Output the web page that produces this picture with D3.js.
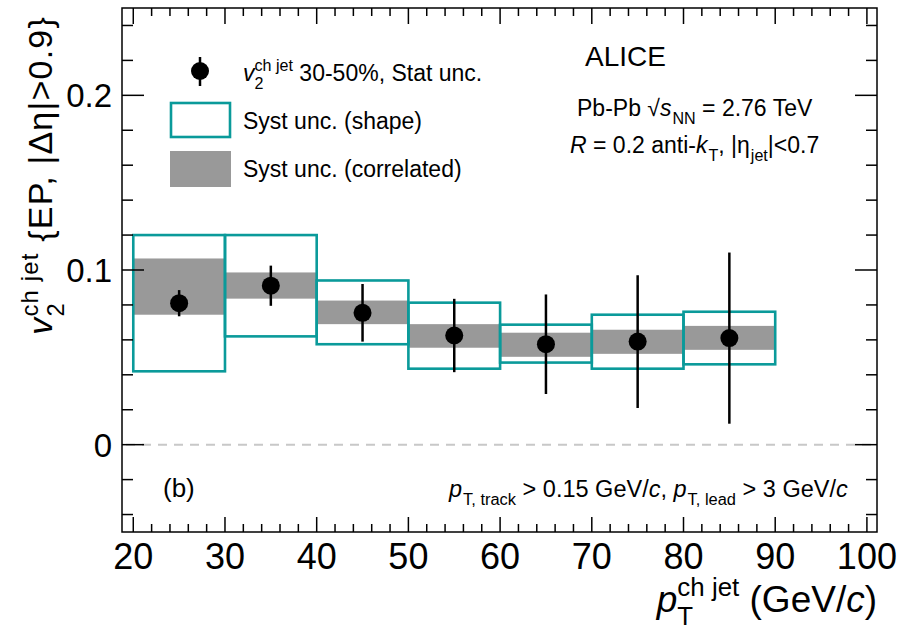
<!DOCTYPE html>
<html>
<head>
<meta charset="utf-8">
<script src="https://cdn.jsdelivr.net/npm/d3@7"></script>
<style>
  body { margin: 0; background: #fff; }
  svg { display: block; font-family: "Liberation Sans", Arial, Helvetica, sans-serif; }
</style>
</head>
<body>
<div id="chart"></div>
<script>
// pT bins (GeV/c) and v2 values
const binLo   = [20, 30, 40, 50, 60, 70, 80];
const binHi   = [30, 40, 50, 60, 70, 80, 90];
const v2      = [0.081, 0.091, 0.0755, 0.0625, 0.0575, 0.059, 0.061];
const statErr = [0.0075, 0.0115, 0.0165, 0.021, 0.0285, 0.038, 0.049];
const shapeLo = [0.042, 0.062, 0.0575, 0.0435, 0.047, 0.0435, 0.046];
const shapeHi = [0.120, 0.120, 0.094, 0.0813, 0.0687, 0.0744, 0.0761];
const corrLo  = [0.0744, 0.0836, 0.069, 0.0555, 0.0503, 0.052, 0.0543];
const corrHi  = [0.1066, 0.0986, 0.0825, 0.069, 0.0641, 0.0658, 0.068];

const xMajor = [20, 30, 40, 50, 60, 70, 80, 90, 100];
const yMajor = [0, 0.1, 0.2];
const yLabels = ['0', '0.1', '0.2'];

const width = 911, height = 632;
const frame = { left: 122, right: 877, top: 8, bottom: 532 };

const teal = '#0a9a9a', grey = '#999999';

const x = d3.scaleLinear().domain([18.77, 101.1]).range([frame.left, frame.right]);
const y = d3.scaleLinear().domain([-0.05, 0.25]).range([frame.bottom, frame.top]);

const svg = d3.select('#chart').append('svg')
    .attr('width', width)
    .attr('height', height);

// rich text: parts are {t, i, sub, sup, stack}
function rich(g, px, py, size, parts, anchor, ls) {
    const t = g.append('text')
        .attr('x', px).attr('y', py)
        .attr('font-size', size)
        .attr('letter-spacing', ls || null)
        .attr('text-anchor', anchor || 'start');
    const subDy = 0.36 * size, supDy = -0.42 * size, sc = 0.7;
    let shift = 0, pending = 0;
    parts.forEach(p => {
        const target = p.sup ? supDy : p.sub ? subDy : 0;
        const s = t.append('tspan')
            .attr('dy', target - shift)
            .attr('font-size', (p.sub || p.sup) ? size * sc : size)
            .attr('font-style', p.i ? 'italic' : null)
            .text(p.t);
        if (pending || p.sub) s.attr('dx', pending + (p.sub ? 1 : 0));
        pending = 0;
        shift = target;
        if (p.stack) {
            const w1 = s.node().getComputedTextLength();
            const sub = t.append('tspan')
                .attr('dx', -w1)
                .attr('dy', subDy - shift)
                .attr('font-size', size * sc)
                .text(p.stack);
            shift = subDy;
            const w2 = sub.node().getComputedTextLength();
            pending = Math.max(0, w1 - w2);
        }
    });
    return t;
}

// zero line
svg.append('line')
    .attr('x1', frame.left + 4).attr('x2', frame.right)
    .attr('y1', y(0)).attr('y2', y(0))
    .attr('stroke', '#c8c8c8')
    .attr('stroke-width', 2)
    .attr('stroke-dasharray', '9,7');

const idx = d3.range(v2.length);

// correlated systematics
svg.append('g').selectAll('rect')
    .data(idx).enter().append('rect')
    .attr('x', i => x(binLo[i]))
    .attr('width', i => x(binHi[i]) - x(binLo[i]))
    .attr('y', i => y(corrHi[i]))
    .attr('height', i => y(corrLo[i]) - y(corrHi[i]))
    .attr('fill', grey);

// shape systematics
svg.append('g').selectAll('rect')
    .data(idx).enter().append('rect')
    .attr('x', i => x(binLo[i]))
    .attr('width', i => x(binHi[i]) - x(binLo[i]))
    .attr('y', i => y(shapeHi[i]))
    .attr('height', i => y(shapeLo[i]) - y(shapeHi[i]))
    .attr('fill', 'none')
    .attr('stroke', teal)
    .attr('stroke-width', 2.6);

// stat error bars
svg.append('g').selectAll('line')
    .data(idx).enter().append('line')
    .attr('x1', i => x((binLo[i] + binHi[i]) / 2))
    .attr('x2', i => x((binLo[i] + binHi[i]) / 2))
    .attr('y1', i => y(v2[i] + statErr[i]))
    .attr('y2', i => y(v2[i] - statErr[i]))
    .attr('stroke', '#000')
    .attr('stroke-width', 2.5);

svg.append('g').selectAll('circle')
    .data(idx).enter().append('circle')
    .attr('cx', i => x((binLo[i] + binHi[i]) / 2))
    .attr('cy', i => y(v2[i]))
    .attr('r', 9)
    .attr('fill', '#000');

// frame and ticks
const axes = svg.append('g').attr('stroke', '#000').attr('stroke-width', 1.5);
axes.append('rect')
    .attr('x', frame.left).attr('y', frame.top)
    .attr('width', frame.right - frame.left)
    .attr('height', frame.bottom - frame.top)
    .attr('fill', 'none');

const xMinor = d3.range(20, 100.01, 2);
const yMinor = d3.range(-0.04, 0.2401, 0.02);

xMinor.forEach(v => {
    const major = xMajor.some(m => Math.abs(m - v) < 1e-6);
    const lb = major ? 15 : 8, lt = major ? 16 : 8;
    axes.append('line').attr('x1', x(v)).attr('x2', x(v))
        .attr('y1', frame.bottom).attr('y2', frame.bottom - lb);
    axes.append('line').attr('x1', x(v)).attr('x2', x(v))
        .attr('y1', frame.top).attr('y2', frame.top + lt);
});
yMinor.forEach(v => {
    const major = yMajor.some(m => Math.abs(m - v) < 1e-6);
    const l = major ? 22 : 11;
    axes.append('line').attr('y1', y(v)).attr('y2', y(v))
        .attr('x1', frame.left).attr('x2', frame.left + l);
    axes.append('line').attr('y1', y(v)).attr('y2', y(v))
        .attr('x1', frame.right).attr('x2', frame.right - l);
});

// tick labels
svg.append('g').selectAll('text')
    .data(xMajor).enter().append('text')
    .attr('x', d => x(d))
    .attr('y', 569)
    .attr('text-anchor', 'middle')
    .attr('font-size', 36)
    .text(d => d);

svg.append('g').selectAll('text')
    .data(yMajor).enter().append('text')
    .attr('x', 112)
    .attr('y', d => y(d) + 12)
    .attr('text-anchor', 'end')
    .attr('font-size', 33)
    .text((d, i) => yLabels[i]);

// axis titles
rich(svg, frame.right, 612, 37, [
    { t: 'p', i: 1 }, { t: 'ch jet', sup: 1, stack: 'T' },
    { t: ' (GeV/' }, { t: 'c', i: 1 }, { t: ')' }
], 'end');

const yt = svg.append('g').attr('transform', 'translate(52,16) rotate(-90)');
rich(yt, 0, 0, 34, [
    { t: 'v', i: 1 }, { t: 'ch jet', sup: 1, stack: '2' },
    { t: ' {EP, |\u0394\u03b7|>0.9}' }
], 'end', 1.2);

// legend
const leg = svg.append('g');
leg.append('line').attr('x1', 200).attr('x2', 200).attr('y1', 57).attr('y2', 86)
    .attr('stroke', '#000').attr('stroke-width', 2.5);
leg.append('circle').attr('cx', 200).attr('cy', 71).attr('r', 9).attr('fill', '#000');
rich(leg, 243, 81, 23, [
    { t: 'v', i: 1 }, { t: 'ch jet', sup: 1, stack: '2' }, { t: ' 30-50%, Stat unc.' }
]);
leg.append('rect').attr('x', 171).attr('y', 103).attr('width', 59).attr('height', 34)
    .attr('fill', 'none').attr('stroke', teal).attr('stroke-width', 2.6);
leg.append('text').attr('x', 243).attr('y', 129).attr('font-size', 23).text('Syst unc. (shape)');
leg.append('rect').attr('x', 170).attr('y', 151).attr('width', 61).attr('height', 36)
    .attr('fill', grey);
leg.append('text').attr('x', 243).attr('y', 177).attr('font-size', 23).text('Syst unc. (correlated)');

// labels
svg.append('text').attr('x', 585).attr('y', 66).attr('font-size', 28).text('ALICE');
rich(svg, 577, 116, 23, [
    { t: 'Pb-Pb  \u221a' }, { t: 's', i: 1 }, { t: 'NN', sub: 1 }, { t: ' = 2.76 TeV' }
]);
rich(svg, 570, 153, 23, [
    { t: 'R', i: 1 }, { t: ' = 0.2 anti-' }, { t: 'k', i: 1 }, { t: 'T', sub: 1 },
    { t: ', |\u03b7' }, { t: 'jet', sub: 1 }, { t: '|<0.7' }
]);
svg.append('text').attr('x', 163).attr('y', 497).attr('font-size', 26).text('(b)');
rich(svg, 449, 497, 23.5, [
    { t: 'p', i: 1 }, { t: 'T, track', sub: 1 }, { t: ' > 0.15 GeV/' }, { t: 'c', i: 1 },
    { t: ', ' }, { t: 'p', i: 1 }, { t: 'T, lead', sub: 1 }, { t: ' > 3 GeV/' }, { t: 'c', i: 1 }
]);
</script>
</body>
</html>
